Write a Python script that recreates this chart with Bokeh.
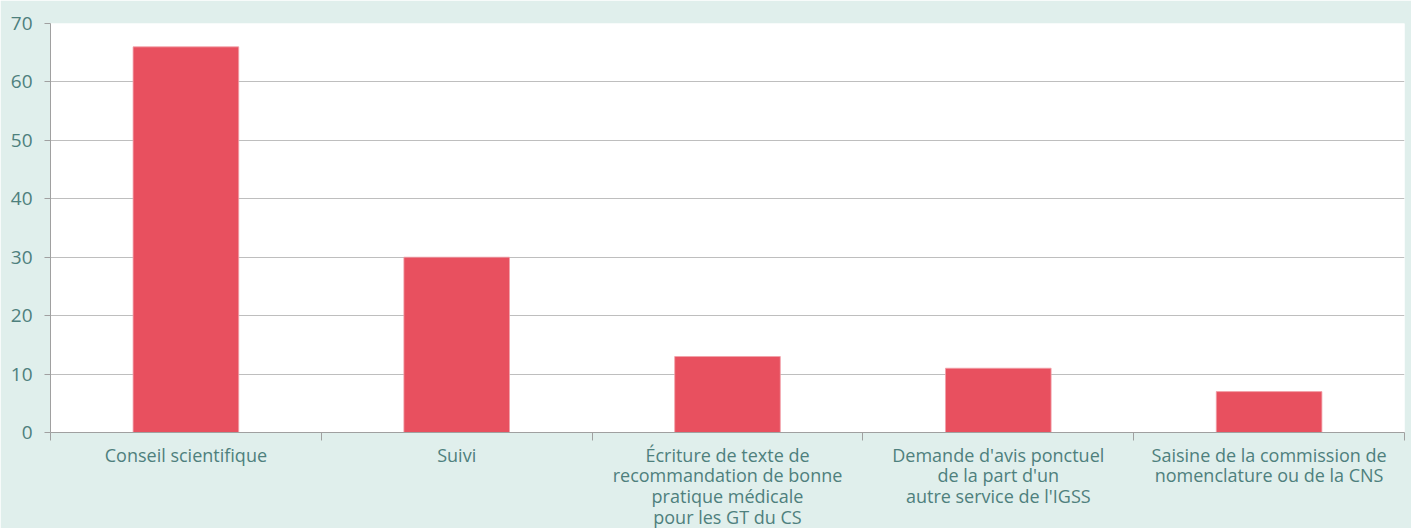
from bokeh.plotting import figure
from bokeh.models import FixedTicker, ColumnDataSource, Range1d
from bokeh.embed import file_html
from bokeh.resources import INLINE

categories = [
    "Conseil scientifique",
    "Suivi",
    "Écriture de texte de\nrecommandation de bonne\npratique médicale\npour les GT du CS",
    "Demande d'avis ponctuel\nde la part d'un\nautre service de l'IGSS",
    "Saisine de la commission de\nnomenclature ou de la CNS",
]
values = [66, 30, 13, 11, 7]
y_ticks = [0, 10, 20, 30, 40, 50, 60, 70]

n = len(categories)
centers = [i + 0.5 for i in range(n)]
source = ColumnDataSource(data=dict(x=centers, top=values))

p = figure(frame_width=1354, frame_height=409, output_backend="svg", toolbar_location=None,
           x_range=Range1d(0, n), y_range=Range1d(0, 70))
p.min_border_left = 50
p.min_border_top = 23
p.min_border_right = 7
p.min_border_bottom = 96
p.border_fill_color = "#E0EFEC"
p.background_fill_color = "white"
p.outline_line_color = None

p.vbar(x="x", top="top", width=0.39, source=source, fill_color="#E8505F",
       line_color="#F1A0A8", line_width=0.8)

label_color = "#4E807D"
font = "Open Sans"

# x axis
xa = p.xaxis[0]
xa.ticker = FixedTicker(ticks=centers, minor_ticks=list(range(n + 1)))
xa.major_label_overrides = {c: lab for c, lab in zip(centers, categories)}
xa.major_tick_line_color = None
xa.minor_tick_line_color = "#A0A0A0"
xa.minor_tick_out = 8
xa.minor_tick_in = 0
xa.axis_line_color = "#A0A0A0"
xa.major_label_text_color = label_color
xa.major_label_text_font = font
xa.major_label_text_font_size = "18px"
xa.major_label_text_line_height = 0.87
xa.major_label_standoff = 2

# y axis
ya = p.yaxis[0]
ya.ticker = FixedTicker(ticks=y_ticks)
ya.major_tick_line_color = "#A0A0A0"
ya.major_tick_out = 6
ya.major_tick_in = 0
ya.minor_tick_line_color = None
ya.axis_line_color = "#A0A0A0"
ya.major_label_text_color = label_color
ya.major_label_text_font = font
ya.major_label_text_font_size = "19px"
ya.major_label_standoff = 12

p.xgrid.grid_line_color = None
p.ygrid.ticker = FixedTicker(ticks=y_ticks)
p.ygrid.grid_line_color = "#BEBEBE"
p.ygrid.grid_line_width = 1.2

open("out.html", "w").write(file_html(p, INLINE))
